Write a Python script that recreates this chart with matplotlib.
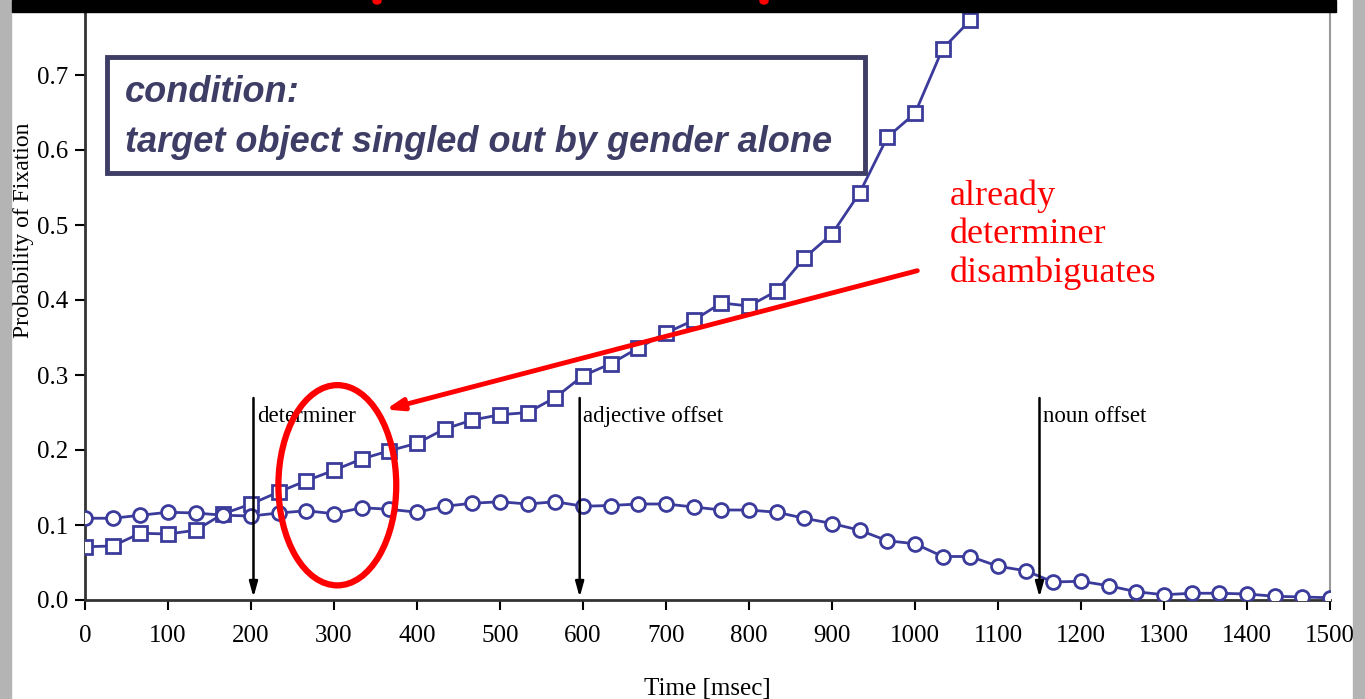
import matplotlib.pyplot as plt
from matplotlib.patches import Rectangle, Ellipse

# time axis (ms), one sample every 33.3 ms
time_ms = [i * 1500 / 45 for i in range(46)]

# fixation probability on target (squares) and competitor (circles)
target = [0.071, 0.072, 0.089, 0.088, 0.093, 0.115, 0.128, 0.144, 0.159, 0.173,
          0.188, 0.199, 0.209, 0.228, 0.240, 0.247, 0.250, 0.270, 0.299, 0.315,
          0.336, 0.356, 0.373, 0.396, 0.392, 0.412, 0.456, 0.488, 0.543, 0.617,
          0.649, 0.735, 0.773, 0.815]
competitor = [0.109, 0.109, 0.113, 0.117, 0.116, 0.113, 0.112, 0.116, 0.119, 0.115,
              0.123, 0.121, 0.117, 0.125, 0.129, 0.131, 0.128, 0.131, 0.125, 0.126,
              0.128, 0.128, 0.124, 0.120, 0.120, 0.117, 0.109, 0.102, 0.093, 0.079,
              0.075, 0.058, 0.058, 0.045, 0.039, 0.024, 0.025, 0.019, 0.011, 0.007,
              0.009, 0.009, 0.008, 0.005, 0.004, 0.003]

events = ["determiner", "adjective offset", "noun offset"]
event_ms = [203, 596, 1150]

x_ticks = list(range(0, 1501, 100))
y_ticks = [0.0, 0.1, 0.2, 0.3, 0.4, 0.5, 0.6, 0.7]

W, H = 1365, 699
navy = "#3b3b9b"
serif = ["Liberation Serif", "DejaVu Serif"]

fig = plt.figure(figsize=(W / 100, H / 100), dpi=100)
fig.patch.set_facecolor("white")

def fx(px):
    return px / W

def fy(py):
    return 1 - py / H

ax = fig.add_axes([fx(85), 99 / H, 1245 / W, 600 / H])
ax.set_xlim(0, 1500)
ax.set_ylim(0, 0.8)

ax.plot(time_ms[:len(target)], target, color=navy, lw=2, marker="s", ms=10,
        mfc="white", mec=navy, mew=2, zorder=3)
ax.plot(time_ms, competitor, color=navy, lw=2, marker="o", ms=10,
        mfc="white", mec=navy, mew=2, zorder=3)

for name, t in zip(events, event_ms):
    ax.annotate("", xy=(t, 0.0), xytext=(t, 0.273),
                arrowprops=dict(arrowstyle="-|>,head_width=0.25,head_length=0.9",
                                color="black", lw=1.8), zorder=4)
    ax.text(t + 4, 0.245, name, fontsize=16.5, family=serif, va="center", ha="left")

ax.set_xticks(x_ticks)
ax.set_yticks(y_ticks)
ax.set_yticklabels([f"{v:.1f}" for v in y_ticks])
ax.tick_params(direction="out", length=7, width=1.5, labelsize=18)
ax.tick_params(axis="x", pad=11)
ax.tick_params(axis="y", pad=5)
for lab in ax.get_xticklabels() + ax.get_yticklabels():
    lab.set_family(serif)
ax.set_xlabel("Time [msec]", fontsize=18, family=serif, labelpad=22)

for s in ["left", "bottom"]:
    ax.spines[s].set_linewidth(2)
    ax.spines[s].set_color("#333333")
ax.spines["right"].set_color("#999999")
ax.spines["right"].set_linewidth(1.5)
ax.spines["top"].set_visible(False)

fig.text(fx(24), fy(230), "Probability of Fixation", rotation=90, fontsize=17,
         family=serif, ha="center", va="center")

# red highlight around determiner region and pointer
ax.add_patch(Ellipse((304, 0.153), 142, 0.267, fill=False, ec="red", lw=4.5, zorder=5))
ax.annotate("", xy=(359, 0.253), xytext=(1006, 0.44),
            arrowprops=dict(arrowstyle="-|>,head_width=0.35,head_length=1.0",
                            color="red", lw=3.5), zorder=5)
fig.text(fx(950), fy(235), "already\ndeterminer\ndisambiguates", color="red",
         fontsize=26, family=serif, ha="left", va="center", linespacing=1.2)

# condition box
fig.add_artist(Rectangle((fx(107), fy(173)), (865 - 107) / W, (173 - 57) / H,
                         transform=fig.transFigure, fill=False, ec="#3d3d66", lw=3.5))
fig.text(fx(125), fy(93), "condition:", color="#3d3d66", fontsize=26,
         family="Liberation Sans", weight="bold", style="italic", va="center")
fig.text(fx(125), fy(143), "target object singled out by gender alone", color="#3d3d66",
         fontsize=26, family="Liberation Sans", weight="bold", style="italic", va="center")

# slide frame: grey side borders and black title strip
fig.add_artist(Rectangle((0, 0), fx(11), 1, transform=fig.transFigure,
                         color="#b4b4b4", zorder=10))
fig.add_artist(Rectangle((fx(1353), 0), fx(12), 1, transform=fig.transFigure,
                         color="#b4b4b4", zorder=10))
fig.add_artist(Rectangle((fx(12), fy(12)), fx(1324), 12 / H, transform=fig.transFigure,
                         color="black", zorder=10))
for px in [377, 764]:
    fig.add_artist(Ellipse((fx(px), fy(1)), 8 / W, 6 / H, transform=fig.transFigure,
                           color="red", zorder=11))

fig.savefig("out.png", dpi=100)
